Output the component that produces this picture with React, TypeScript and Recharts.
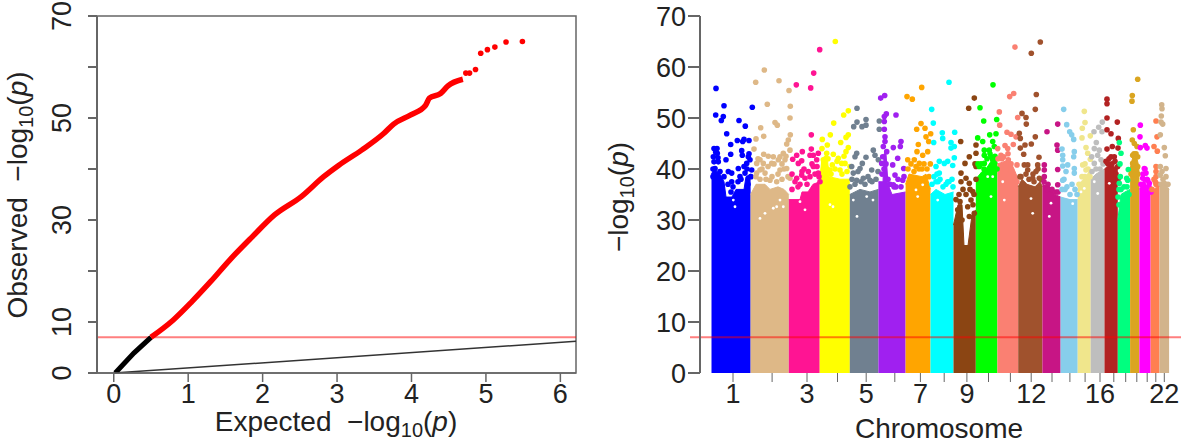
import React from "react";
import { ComposedChart, Area, Line, Scatter, XAxis, YAxis, ReferenceLine, ReferenceArea, Label } from "recharts";

const FONT = "'Liberation Sans', Arial, sans-serif";
const INK = "#222";
const AXIS = "#666";
const TICK_SIZE = 27;
const TITLE_SIZE = 28;

// ---------- QQ plot data ----------
const qqBelow: number[][] = [[0.02, 0], [0.27, 3.9], [0.5, 7]];
const qqAbove: number[][] = [[0.5, 7], [0.8, 10.4], [1.05, 14], [1.3, 17.9], [1.56, 22.2], [1.86, 26.7], [2.16, 31], [2.52, 34.6], [2.82, 38.5], [3.02, 40.7], [3.33, 43.7], [3.63, 47], [3.76, 48.8], [3.99, 50.6], [4.19, 52.5], [4.24, 53.9], [4.39, 54.8], [4.49, 56.3], [4.69, 57.6]];
const qqTail: number[][] = [[4.73, 58.8], [4.78, 58.8], [4.86, 59.5], [4.93, 62.7], [5.02, 63.4], [5.12, 63.9], [5.27, 64.9], [5.49, 65]];
const qqXTicks = [0, 1, 2, 3, 4, 5, 6];
const qqYTicks = [0, 10, 20, 30, 40, 50, 60, 70];
const qqYLabels = [0, 10, 30, 50, 70];

// ---------- Manhattan data ----------
const chromColors = ["#0000FF", "#DEB887", "#FF1493", "#FFFF00", "#708090", "#A020F0", "#FFA500", "#00FFFF", "#8B4513", "#00FF00", "#FA8072", "#A0522D", "#C71585", "#87CEEB", "#F0E68C", "#BEBEBE", "#B22222", "#00FF7F", "#DAA520", "#FF00FF", "#FF7F50", "#D2B48C"];
const chromNames = ["1", "", "3", "", "5", "", "7", "", "9", "", "", "12", "", "", "", "16", "", "", "", "", "", "22"];
const chromTicks = [33, 72.1, 107, 137.5, 166.2, 194.8, 220.4, 244.2, 266.9, 288.5, 310.4, 331.2, 352, 369.9, 385.1, 400, 413.8, 425.7, 436.8, 447.2, 455.8, 464.3];
const manhattanYTicks = [0, 10, 20, 30, 40, 50, 60, 70];

const chromTops: number[][][] = [
  [[11.5, 39], [14, 40], [20, 39], [24, 37.5], [26, 34.5], [32, 34.5], [36, 36], [44, 36], [46, 38.5], [50.6, 39]],
  [[50.6, 35], [56, 37], [65, 37], [70, 36], [78, 36.5], [84, 36], [88.8, 35]],
  [[88.8, 34], [100, 34], [102, 35.5], [108, 35.5], [113, 37], [119.7, 37.5]],
  [[119.7, 38], [122, 42], [127, 43], [129, 38.5], [140, 38], [149.8, 38]],
  [[149.8, 35], [160, 36], [170, 35.5], [178.4, 36]],
  [[178.4, 37.5], [183, 37.5], [184, 43], [186, 43], [188, 37], [192, 35], [205.6, 35.5]],
  [[205.6, 37], [209, 39], [222, 38.5], [226, 39], [230.5, 36]],
  [[230.5, 35], [236, 36], [245, 35], [253.5, 35.5]],
  [[253.5, 29], [258, 33], [262, 33], [264, 25], [268, 25], [272, 31], [275.8, 32]],
  [[275.8, 38], [282, 39.5], [286, 40], [291, 41.5], [296, 42], [297.4, 41]],
  [[297.4, 41], [305, 41.5], [309, 42], [314, 40], [318.2, 38]],
  [[318.2, 36.5], [322, 38], [327, 37], [335, 36.5], [340, 37.5], [342.4, 36.5]],
  [[342.4, 37], [350, 36.5], [355, 35], [360.6, 34.5]],
  [[360.6, 34.5], [370, 34], [377.7, 34]],
  [[377.7, 36], [381, 37.5], [386, 38.5], [390.7, 40]],
  [[390.7, 38], [396, 39], [404.5, 40]],
  [[404.5, 40], [410, 41], [417.8, 40]],
  [[417.8, 30], [421, 35], [425, 35.5], [430.1, 36]],
  [[430.1, 40], [433, 42.5], [437, 42], [439.4, 40]],
  [[439.4, 36], [444, 38], [447, 36.5], [450.6, 35]],
  [[450.6, 35], [454, 36], [459.5, 37]],
  [[459.5, 37], [464, 37.5], [469.1, 36]],
];

const chromDots: number[][][] = [
  [[16, 55.8], [24, 52.4], [15.7, 50.6], [23.3, 50.3], [21.3, 49.5], [39, 49.5], [45.3, 48.4], [52.3, 52.1], [26.7, 46.9], [30.7, 44.8], [37.3, 45.6], [42.7, 45.4], [44, 45.8], [49, 45.6], [30.7, 42.9], [41.7, 43.6], [15.7, 43.3], [17.3, 43.1], [13.3, 42.4], [26, 41.8], [42.3, 42.7], [48.3, 42.4], [14, 41.4], [18.3, 41.4], [28.3, 39.5], [31.7, 39.2], [38.3, 40.1], [46.7, 41.1], [50, 41.8], [15, 40.1], [20, 39.5], [31.7, 37.5], [40, 38.5], [45, 39.2], [51.7, 39.8]],
  [[55.7, 57], [64.3, 59.4], [79, 57.3], [89, 55.4], [67.3, 52.7], [90.3, 52.3], [90, 50], [75, 49.1], [77.3, 48.6], [60.7, 48.1], [63.7, 46.4], [56, 45.9], [90.3, 46.7], [88.3, 45.7], [86.7, 44.9], [90, 43.7], [54, 43.9], [63.7, 42.9], [68.3, 42.5], [73.3, 42.4], [83.3, 43.1], [80, 42.4], [60, 41.8], [56.7, 41.1], [63.3, 41.1], [71.7, 41.1], [78.3, 41.8], [85, 41.8], [60, 39.8], [65, 39.2], [86.7, 40.1], [80, 39.8], [56.7, 39.2], [70, 37.8], [76.7, 37.5], [90, 38.2]],
  [[96.3, 56.5], [110.7, 55.9], [113.7, 58.8], [119.7, 63.4], [111.3, 46.7], [102.3, 43.4], [96.7, 42.7], [92.7, 41.9], [98.3, 41.1], [101.7, 41.6], [111.3, 43.9], [113.3, 42.7], [118.3, 43.1], [110, 42.7], [116.7, 41.8], [108.3, 39.5], [101.7, 38.8], [96.7, 38.2], [113.3, 40.5], [118.3, 39.2], [120, 37.5], [105, 38.2]],
  [[135.3, 65], [148.3, 51.4], [143.7, 50.6], [133.7, 49], [122.3, 45.8], [130.3, 46.7], [148.3, 46.7], [146, 46.2], [140.7, 45.2], [127.3, 44.7], [148.3, 44.2], [146, 43.4], [133.3, 42.9], [138.3, 42.1], [126.7, 43.1], [123.3, 41.8], [145, 41.1], [141.7, 41.1], [132.3, 40.8], [140, 39.8], [130, 39.8], [150, 40.5]],
  [[157, 51.9], [166, 49.7], [166, 48.6], [162, 48.3], [157, 49.2], [153.7, 48.3], [179.3, 49.4], [179.3, 47.8], [156.7, 43.1], [155, 42.4], [173.3, 43.7], [175, 42.7], [166, 42.3], [162.3, 41.1], [178.3, 41.8], [160, 40.1], [151.7, 40.5], [171.7, 39.8], [153.3, 39.2], [163.3, 38.2], [170, 37.8], [156.7, 37.8]],
  [[180.7, 53.9], [184.7, 54.4], [186.3, 50.8], [196, 50.6], [184.3, 50.3], [184.3, 49.3], [184.3, 47.8], [185, 46.3], [185, 45.4], [183.3, 44.4], [193.3, 44.2], [186.7, 43.4], [201, 45.4], [200.3, 44.4], [182.7, 42.4], [192.7, 40.8], [197.7, 42.1], [181.7, 41.1], [195, 38.8], [193.3, 36.9], [203.7, 40.1], [202.7, 37.8]],
  [[207, 54.2], [212.3, 53.7], [221.7, 56], [221, 48.9], [216.7, 47.8], [225, 48], [230.7, 46.9], [226, 46.3], [228.7, 45.4], [218.3, 44.8], [217, 43.4], [227.7, 43.4], [222.7, 42.7], [214.3, 41.8], [219.3, 41.1], [230.3, 41], [207.7, 41.8]],
  [[249, 57], [231.7, 51.7], [233.3, 49], [242.3, 47.1], [254.7, 47.2], [233.7, 45.2], [251, 45.2], [254.3, 44.4], [251, 44.1], [242.7, 46], [254.3, 42.2], [236, 40.5], [239.3, 41.5], [244.3, 41.1], [247.7, 41.5], [252.7, 40.7], [239.3, 39.2], [247.7, 37.5], [236, 37.5]],
  [[274.3, 53.9], [268.7, 51.9], [260.7, 45.4], [276, 44.7], [269.3, 42.4], [265, 41.1], [261, 39.2], [266, 38.2], [276, 43.1], [276, 40.5], [261, 37.5], [269.3, 37.2], [272.7, 35.6], [260, 33.6], [271, 33.9], [257.7, 32], [267.7, 32.6], [274.3, 31.3], [257.7, 28.7], [269.3, 30.7], [261, 27.1]],
  [[293, 56.5], [280, 52], [283.7, 49.4], [296.7, 49.7], [277.7, 46.1], [289.7, 46.7], [296, 46.9], [282.7, 45.4], [292.7, 45.4], [284.3, 43.7], [289.3, 43.7], [294.3, 44.4], [284.3, 42.7], [291, 42.4], [284.3, 41.1], [279.3, 40.5], [292.7, 41.8]],
  [[315, 63.9], [309.7, 54.2], [313.7, 54.8], [299.3, 51.2], [317.7, 50.1], [299.7, 48.6], [307, 47.2], [311, 46.8], [316, 46.3], [305, 44.6], [307.7, 44], [313.3, 44.8], [297.7, 44], [301, 42.7], [303.7, 42.4], [308.3, 41.8], [317, 40.8], [311, 39.8]],
  [[340.3, 64.9], [331.3, 62.7], [336.3, 54.6], [335.3, 51.7], [322, 50.9], [326, 50.1], [326.3, 48.8], [319.3, 47], [320.3, 46], [335.3, 46.3], [331.3, 44.9], [325, 44.7], [320.3, 44.1], [323.7, 42.9], [339, 42.3], [324.3, 40.8], [327.7, 40.8], [337.7, 40.8], [321, 38.5], [327.7, 39.8], [336, 39.5], [339.3, 38.2], [332.7, 38.2]],
  [[357.7, 48.8], [347, 47.3], [357, 44.7], [357.7, 43.7], [344.3, 40.8], [344.3, 39.8], [344.3, 38.5], [357.7, 39.9], [357.7, 36.9]],
  [[363.7, 51.7], [366.7, 48.7], [369.7, 47.3], [371.7, 46.7], [373.7, 45.8], [362, 43.9], [362.7, 42.7], [374.3, 43.4], [373.7, 42.4], [362.7, 41.8], [362.7, 40.6], [367.7, 40.8], [374.3, 40.1], [374.3, 39.2], [366, 39.5], [362.7, 37.8]],
  [[384.3, 51.3], [385, 49.1], [382.3, 48], [382, 46.1], [390.3, 46.5], [386, 44.2], [387.7, 43.1], [390.3, 41.9], [382.7, 40.8], [386, 39.8], [385, 38.5]],
  [[402.3, 49.2], [398.7, 48.2], [394, 47.3], [402, 47.3], [396.3, 45.2], [394.3, 44], [399.3, 43.7], [397.7, 42.7], [391.7, 42.4], [394.3, 41.1], [401, 41.8]],
  [[407, 53.7], [407, 52.8], [407, 50], [417.3, 49.2], [407, 47.7], [411, 46.9], [418.3, 46], [412.3, 44.4], [407, 43.9], [418, 44.1], [411, 42.4], [414.3, 42.4], [407.7, 41.1], [417.7, 40.5]],
  [[419.3, 45.2], [421, 43.1], [420, 41], [428.3, 39.9], [420.3, 38.5], [426.7, 38.2], [419.3, 37.2], [427.7, 37.8]],
  [[437.7, 57.6], [432.3, 54.4], [432, 53.3], [433.3, 47.7], [432.3, 45.7], [434.3, 45], [437, 44.4], [432.7, 42.7], [437.7, 42.4], [432.7, 41.1], [437.7, 40.5]],
  [[440.3, 48.6], [440, 46.3], [440.3, 44.2], [445.3, 44.6], [447, 44.1], [444.3, 40.1], [446, 39.2], [442.7, 38.2], [447.7, 37.8], [449.3, 37.2]],
  [[456, 49.4], [457, 46.3], [454, 44.4], [457.3, 43.5], [456, 40.5], [456, 39.5], [456, 38.5], [455.3, 37.5]],
  [[461.7, 52.6], [462, 51.8], [461.3, 50.4], [461, 49.2], [462.7, 48.8], [460.3, 46.7], [464.3, 44.2], [465.3, 42.6], [460.3, 40.5], [466, 40.1], [464.3, 37.2], [462.7, 36.2], [460.3, 38.8]],
];

const chromFringe: number[][][] = [
  [[13, 38.5], [16, 37.5], [20, 37.5], [24, 38.5], [18, 42.2], [14, 44], [17, 44], [13, 40], [22, 36.5], [28, 37], [33, 36.5], [31, 35.5], [38, 37.5], [41, 38], [44, 40.5], [47, 40], [49, 43], [51, 38.5], [48, 37]],
  [[56, 38.5], [58, 42], [60, 38], [62, 40], [66, 38], [68, 40.5], [72, 38.5], [74, 41], [78, 39], [82, 38], [84, 40], [88, 38.5], [86, 42.5], [82, 41]],
  [[92, 36], [95, 37.5], [98, 36.5], [102, 39.5], [100, 37], [107, 37], [110, 38.5], [112, 41], [115, 39], [117, 40.5], [119, 38.5], [104, 40], [92, 39]],
  [[122, 44], [124, 41], [127, 40], [128, 42], [135, 40], [137, 41.5], [142, 39], [147, 39.5], [144, 42.5], [131, 39]],
  [[152, 38], [155, 37], [158, 39.5], [165, 37], [168, 38.5], [172, 37.5], [176, 38], [150, 36.5], [161, 37.5], [178, 39.5]],
  [[182, 39], [184, 40], [186, 41], [188, 38], [190, 37], [194, 36.5], [198, 38], [201, 36.5], [204, 38.5], [196, 36.5]],
  [[208, 40], [211, 41], [214, 39.5], [216, 40.5], [219, 40], [222, 40], [224, 41], [227, 40], [229, 38.5]],
  [[232, 37], [234, 38.5], [237, 39], [240, 38], [238, 37.5], [243, 36.5], [246, 37], [249, 37.5], [252, 38], [253, 36.5]],
  [[256, 34], [259, 35], [263, 36], [266, 35], [270, 36], [274, 35], [276, 38], [275, 41], [273, 33], [262, 30], [258, 30]],
  [[278, 41], [281, 41], [284, 40], [287, 42], [290, 43], [295, 42.5], [297, 40]],
  [[298, 42], [302, 42], [305, 40], [311, 41], [314, 38.5], [317, 37.5], [308, 43]],
  [[320, 38.5], [323, 37], [326, 39], [329, 38], [333, 39], [338, 40], [341, 38], [334, 37.5]],
  [[344, 37.5], [348, 37], [352, 36], [356, 35.5], [358, 35.5], [347, 36]],
  [[362, 36], [365, 36], [364, 38], [367, 36.5], [372, 37], [375, 36], [370, 35], [377, 35]],
  [[379, 37], [382, 38.5], [385, 41], [388, 40], [390, 38.5]],
  [[392, 39.5], [396, 40], [400, 40], [403, 41], [398, 38.5]],
  [[406, 41.5], [409, 42], [412, 41], [415, 41.5], [418, 38], [416, 39]],
  [[419, 36], [419, 33], [421, 36], [424, 36.5], [427, 36.5], [429, 35], [418, 34.5]],
  [[431, 39], [434, 43], [436, 43], [438, 39]],
  [[441, 37], [443, 39], [445, 40], [447, 38], [449, 36.5], [451, 35.5]],
  [[452, 36], [454, 38], [456, 37], [458, 37]],
  [[461, 37], [463, 38], [466, 38.5], [468, 37], [462, 39.5]],
];

const gapDots: number[][] = [[33.3, 33.9], [35, 32.6], [60, 30.3], [73.3, 32.3], [76.7, 32.6], [83.3, 32.6], [65, 31.3], [80, 33.9], [100, 33.6], [105, 32], [130, 33], [133, 32.6], [153.3, 33.9], [166.7, 34.6], [173, 33.9], [157, 30.7], [216, 35.9], [222.7, 36.9], [217.7, 34.6], [302.7, 37.5], [304.3, 33.9], [331, 34.2], [332.7, 31.3], [351, 33.3], [349.3, 30.7], [372.7, 33.2], [384.3, 36.2], [381, 35.5], [394.3, 37.5], [397.7, 35.2], [409.3, 37.2], [292.7, 38.5], [291, 34.6], [287.7, 38.5], [237.7, 33.9]];

const thresholdValue = 7;

const qqRows = [
  ...qqBelow.map(([x, y]) => ({ x, below: y, above: x === 0.5 ? 7 : null })),
  ...qqAbove.slice(1).map(([x, y]) => ({ x, below: null, above: y })),
];
const qqTailRows = qqTail.map(([x, y]) => ({ x, y }));
const manRows = chromTops.flatMap((top, i) => top.map(([pos, v]) => ({ pos, ["c" + i]: v })));

const Dot = (fill: string, r: number) => (p: any) => <circle cx={p.cx} cy={p.cy} r={r} fill={fill} />;

const RotTick = (p: any) =>
  qqYLabels.includes(p.payload.value) ? (
    <text transform={`translate(${p.x - 15},${p.y}) rotate(-90)`} textAnchor="middle" fontFamily={FONT} fontSize={TICK_SIZE} fill={INK}>{p.payload.value}</text>
  ) : <g />;

const Logp = ({ prefix }: { prefix: string }) => (
  <>
    {prefix}
    <tspan>−log</tspan>
    <tspan fontSize={20} dy={6}>10</tspan>
    <tspan dy={-6}>(</tspan>
    <tspan fontStyle="italic">p</tspan>
    <tspan>)</tspan>
  </>
);

export default function App() {
  return (
    <div style={{ position: "absolute", left: 0, top: 0, width: 1181, height: 442, background: "#fff", overflow: "hidden" }}>
      <div style={{ position: "absolute", left: 0, top: 0 }}>
        <ComposedChart width={590} height={442} data={qqRows} margin={{ top: 16, right: 14, bottom: 0, left: 0 }}>
          <XAxis type="number" dataKey="x" domain={[-0.225, 6.21]} ticks={qqXTicks} allowDataOverflow height={69} stroke={AXIS} strokeWidth={1.5} tickSize={9} tick={{ fontFamily: FONT, fontSize: TICK_SIZE, fill: INK }} interval={0}>
            <Label content={() => (
              <text x={336} y={431} textAnchor="middle" fontFamily={FONT} fontSize={TITLE_SIZE} fill={INK} xmlSpace="preserve"><Logp prefix="Expected  " /></text>
            )} />
          </XAxis>
          <YAxis type="number" domain={[0, 70]} ticks={qqYTicks} allowDataOverflow width={97} stroke={AXIS} strokeWidth={2} tickSize={9} tick={RotTick} interval={0}>
            <Label content={() => (
              <text transform="translate(27,195) rotate(-90)" textAnchor="middle" fontFamily={FONT} fontSize={TITLE_SIZE} fill={INK} xmlSpace="preserve"><Logp prefix="Observed  " /></text>
            )} />
          </YAxis>
          <ReferenceArea x1={-0.225} x2={6.21} y1={0} y2={70} fill="none" stroke={AXIS} strokeWidth={1.5} />
          <ReferenceLine y={thresholdValue} stroke="#FF0000" strokeOpacity={0.5} strokeWidth={2} />
          <ReferenceLine segment={[{ x: 0, y: 0 }, { x: 6.21, y: 6.21 }]} stroke="#333" strokeWidth={1.5} />
          <Line dataKey="below" stroke="#000" strokeWidth={5} dot={false} isAnimationActive={false} />
          <Line dataKey="above" type="monotone" stroke="#FF0000" strokeWidth={5.5} dot={false} isAnimationActive={false} />
          <Scatter data={qqTailRows} dataKey="y" shape={Dot("#FF0000", 2.8)} isAnimationActive={false} />
        </ComposedChart>
      </div>
      <div style={{ position: "absolute", left: 600, top: 0 }}>
        <ComposedChart width={581} height={442} data={manRows} margin={{ top: 16, right: 0, bottom: 0, left: 0 }}>
          <XAxis type="number" dataKey="pos" domain={[0, 481]} ticks={chromTicks} allowDataOverflow height={69} axisLine={false} stroke={AXIS} tickSize={9} interval={0} tick={{ fontFamily: FONT, fontSize: TICK_SIZE, fill: INK }}
            tickFormatter={(v: number) => chromNames[chromTicks.indexOf(v)]}>
            <Label content={() => (
              <text x={339} y={438} textAnchor="middle" fontFamily={FONT} fontSize={TITLE_SIZE} fill={INK}>Chromosome</text>
            )} />
          </XAxis>
          <YAxis type="number" domain={[0, 70]} ticks={manhattanYTicks} allowDataOverflow width={100} stroke={AXIS} strokeWidth={2} tickSize={12} interval={0} tick={{ fontFamily: FONT, fontSize: TICK_SIZE, fill: INK }}>
            <Label content={() => (
              <text transform="translate(28,197) rotate(-90)" textAnchor="middle" fontFamily={FONT} fontSize={TITLE_SIZE} fill={INK}><Logp prefix="" /></text>
            )} />
          </YAxis>
          {chromColors.map((c, i) => (
            <Area key={"a" + i} dataKey={"c" + i} fill={c} fillOpacity={1} stroke={c} strokeWidth={1} connectNulls={false} dot={false} activeDot={false} isAnimationActive={false} />
          ))}
          {chromColors.map((c, i) => (
            <Scatter key={"s" + i} data={[...chromFringe[i], ...chromDots[i]].map(([pos, v]) => ({ pos, v }))} dataKey="v" shape={Dot(c, 2.8)} isAnimationActive={false} />
          ))}
          <Scatter data={gapDots.map(([pos, v]) => ({ pos, v }))} dataKey="v" shape={Dot("#FFFFFF", 1.4)} isAnimationActive={false} />
          <ReferenceLine segment={[{ x: -10, y: thresholdValue }, { x: 481, y: thresholdValue }]} ifOverflow="visible" stroke="#FF0000" strokeOpacity={0.5} strokeWidth={2} />
        </ComposedChart>
      </div>
    </div>
  );
}
